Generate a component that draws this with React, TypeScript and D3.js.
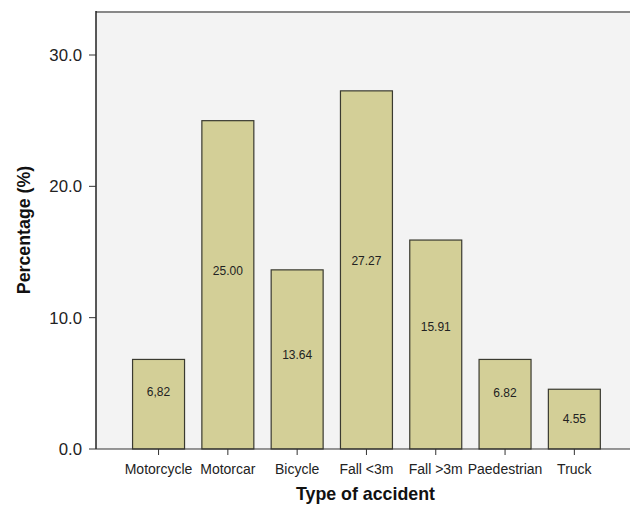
import React from "react";
import * as d3 from "d3";

const categories = ["Motorcycle", "Motorcar", "Bicycle", "Fall <3m", "Fall >3m", "Paedestrian", "Truck"];
const values = [6.82, 25.0, 13.64, 27.27, 15.91, 6.82, 4.55];
const valueLabels = ["6,82", "25.00", "13.64", "27.27", "15.91", "6.82", "4.55"];
// label anchor positions in data units
const labelPos = [4.34, 13.58, 7.16, 14.32, 9.29, 4.26, 2.28];
const yTicks = [0, 10, 20, 30];

const W = 630;
const H = 505;
const plotLeft = 96;
const plotTop = 12;
const plotBottom = 449;
const font = "'Liberation Sans', Arial, Helvetica, sans-serif";

export default function App() {
  const x = d3
    .scaleBand<string>()
    .domain(categories)
    .range([123.4, 608.5])
    .paddingInner(0.25)
    .paddingOuter(0.125);
  const y = d3.scaleLinear().domain([0, 30]).range([plotBottom, 55]);

  return (
    <svg
      width={W}
      height={H}
      style={{ position: "absolute", left: 0, top: 0, background: "#fff" }}
      fontFamily={font}
    >
      <rect x={plotLeft} y={plotTop} width={W - plotLeft} height={plotBottom - plotTop} fill="#f3f3f3" />
      <line x1={plotLeft} x2={W} y1={plotTop} y2={plotTop} stroke="#888" strokeWidth={2} />
      {categories.map((c, i) => (
        <g key={c}>
          <rect
            x={x(c)! + 0.5}
            y={y(values[i])}
            width={x.bandwidth()}
            height={y(0) - y(values[i])}
            fill="#d3cf97"
            stroke="#3a3a30"
            strokeWidth={1.2}
          />
          <text
            x={x(c)! + x.bandwidth() / 2 + 0.5}
            y={y(labelPos[i])}
            dy="0.35em"
            textAnchor="middle"
            fontSize={12}
            fill="#222"
          >
            {valueLabels[i]}
          </text>
        </g>
      ))}
      <line x1={plotLeft} x2={plotLeft} y1={plotTop - 1} y2={plotBottom} stroke="#222" strokeWidth={1.5} />
      <line x1={plotLeft} x2={W} y1={plotBottom} y2={plotBottom} stroke="#333" strokeWidth={1.2} />
      {yTicks.map((t) => (
        <g key={t}>
          <line x1={89} x2={plotLeft} y1={y(t)} y2={y(t)} stroke="#333" />
          <text x={82} y={y(t)} dy="0.36em" textAnchor="end" fontSize={16.8} fill="#222">
            {t.toFixed(1)}
          </text>
        </g>
      ))}
      {categories.map((c) => {
        const cx = x(c)! + x.bandwidth() / 2 + 0.5;
        return (
          <g key={c}>
            <line x1={cx} x2={cx} y1={plotBottom} y2={plotBottom + 6} stroke="#333" />
            <text x={cx} y={474} textAnchor="middle" fontSize={14} fill="#222">
              {c}
            </text>
          </g>
        );
      })}
      <text x={365.5} y={500} textAnchor="middle" fontSize={17.8} fontWeight="bold" fill="#111">
        Type of accident
      </text>
      <text
        transform={`translate(30,230) rotate(-90)`}
        textAnchor="middle"
        fontSize={17.8}
        fontWeight="bold"
        fill="#111"
      >
        Percentage (%)
      </text>
    </svg>
  );
}
